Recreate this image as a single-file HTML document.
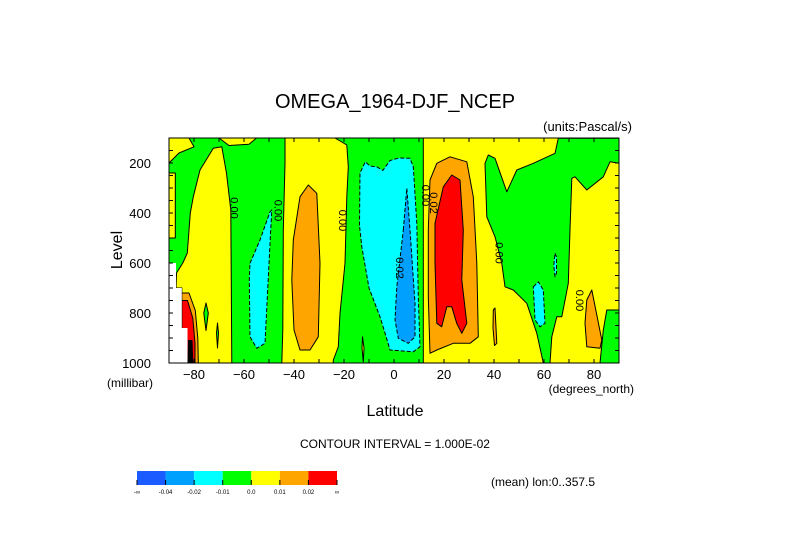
<!DOCTYPE html>
<html><head><meta charset="utf-8"><style>
body{margin:0;background:#fff;overflow:hidden;}
svg{display:block;font-family:"Liberation Sans",sans-serif;}
</style></head><body>
<svg id="chart" width="789" height="558" viewBox="0 0 789 558">
<text x="395" y="108" text-anchor="middle" font-size="20" fill="#000">OMEGA_1964-DJF_NCEP</text>
<text x="632" y="131" text-anchor="end" font-size="13">(units:Pascal/s)</text>
<g id="plot"></g>
<g id="axes"></g>
<text transform="translate(122,250) rotate(-90)" text-anchor="middle" font-size="16">Level</text>
<text x="107" y="387" font-size="12">(millibar)</text>
<text x="634" y="393" text-anchor="end" font-size="12">(degrees_north)</text>
<text x="395" y="416" text-anchor="middle" font-size="16">Latitude</text>
<text x="395" y="448" text-anchor="middle" font-size="12">CONTOUR INTERVAL = 1.000E-02</text>
<text x="491" y="486" font-size="12">(mean) lon:0..357.5</text>
<g id="cbar"></g>
</svg>
<script>
const latTicks=[-80,-60,-40,-20,0,20,40,60,80];
const presTicks=[200,400,600,800,1000];
const cbarColors=["#1a5cff","#00a0ff","#00ffff","#00ff00","#ffff00","#ffa500","#ff0000"];
const cbarLabels=["-∞","-0.04","-0.02","-0.01","0.0","0.01","0.02","∞"];
// regions: [level class, [lat, pressure] points]
const regionLevels=["yellow","yellow","yellow","yellow","orange","red","black","white","green","green","cyan","yellow","orange","cyan","blue","yellow","green","green","orange","red","cyan","cyan","orange","orange","yellow"];
const regionPoints=[
 [[-90,100],[-82,100],[-80,135],[-86,160],[-90,200]],
 [[-90,240],[-87.5,240],[-87.5,500],[-90,500]],
 [[-84.9,1000],[-84.9,700],[-87.2,700],[-87,640],[-84.5,600],[-82.7,560],[-81.5,400],[-80.3,335],[-77.6,228],[-72.3,141],[-68.9,135],[-67,241],[-65.3,388],[-64.9,1000]],
 [[-43.6,100],[-23.6,100],[-18.9,128],[-18.3,215],[-18.9,335],[-19.6,601],[-21.6,801],[-22.3,935],[-24.3,988],[-24.3,1000],[-44.9,1000],[-44.5,868],[-44.3,468],[-43.6,201]],
 [[-84.9,720],[-82,720],[-79.5,790],[-78.5,900],[-78.3,1000],[-84.9,1000]],
 [[-84.9,750],[-82.6,750],[-80.5,820],[-79.6,920],[-79.6,1000],[-84.9,1000]],
 [[-82.4,908],[-80.6,908],[-80.3,1000],[-82.6,1000]],
 [[-90,600],[-87.2,600],[-87.2,700],[-84.9,700],[-84.9,860],[-82.6,860],[-82.6,1000],[-90,1000]],
 [[-75.2,760],[-74.3,800],[-75.2,870],[-76.1,800]],
 [[-70.6,840],[-70.2,880],[-70.6,940],[-71,880]],
 [[-57.6,601],[-53.6,508],[-49.6,395],[-48.9,388],[-49.5,500],[-51.6,921],[-54.9,941],[-57.6,895],[-57.9,668]],
 [[-12.6,895],[-12,940],[-12.3,995],[-12.8,940]],
 [[-40.3,508],[-37.6,335],[-34.3,288],[-30.9,321],[-29.6,601],[-30.3,895],[-33.6,948],[-37.6,948],[-40,868],[-40.9,668]],
 [[-13.8,450],[-13.6,240],[-11.5,195],[-9.6,212],[-6.9,215],[-4.5,230],[-1.6,190],[2,180],[6.4,181],[7.7,215],[9.1,441],[9.7,735],[10.4,935],[7.7,955],[-1.6,948],[-3,900],[-5.6,815],[-10,700],[-12.9,535]],
 [[3.7,468],[5.1,301],[6.4,468],[8.4,761],[8.4,895],[5.7,921],[1.7,901],[0.4,828],[1.1,695]],
 [[11.7,100],[90,100],[90,1000],[11.7,1000]],
 [[36.4,201],[37.7,168],[40.4,181],[45.1,315],[49.1,228],[55.7,201],[64.4,161],[65.7,101],[90,101],[90,201],[86.4,195],[83.7,255],[77.1,308],[72.4,255],[71.1,261],[70.4,468],[69.7,681],[67.1,815],[65.1,815],[63.1,895],[62.4,1000],[59.7,1000],[57.1,881],[53.1,761],[47.7,708],[44.4,695],[43.1,601],[40.4,495],[37.1,415]],
 [[90,788],[85.1,788],[83.7,868],[82.4,1000],[90,1000]],
 [[14.4,268],[17.1,201],[22.4,175],[29.1,195],[31.7,335],[33.1,601],[33.7,895],[30.4,921],[23.7,921],[17.1,948],[14.4,961],[13.7,735],[13.7,468]],
 [[16.4,441],[19.7,295],[23.1,248],[26.4,268],[27.7,468],[27.1,668],[29.1,841],[27.1,881],[25.1,841],[23.1,775],[21.1,775],[19.1,855],[17.1,841],[16.4,601]],
 [[55.7,695],[57.7,675],[59.7,708],[60.4,841],[58.4,855],[56.4,828]],
 [[64.4,561],[65,575],[65,640],[64.4,655],[63.9,610]],
 [[77.1,748],[79.1,708],[83.1,908],[82.4,941],[77.1,935],[76.4,841]],
 [[39.7,788],[40.4,780],[41.1,921],[40.2,930],[39.6,860]],
 [[-70,100],[-55,100],[-58,125],[-66,130]]
];
const labelTexts=["0.00","0.00","0.00","0.00","0.00","0.02","0.00","0.02"];
const labelLat=[-65.5,-47.8,-22,11.2,40.5,14.3,72.7,0.8];
const labelPres=[380,390,430,330,560,360,750,620];

const X0=169,X1=619,Y0=138,Y1=363;
const xs=lat=>X0+(lat+90)/180*(X1-X0);
const ys=p=>Y0+(p-100)/900*(Y1-Y0);
const fills={white:"#ffffff",green:"#00ff00",yellow:"#ffff00",orange:"#ffa500",red:"#ff0000",black:"#000000",cyan:"#00ffff",blue:"#00a0ff"};
const NS="http://www.w3.org/2000/svg";
const plot=document.getElementById('plot');
const bg=document.createElementNS(NS,'rect');


bg.setAttribute('x',X0);bg.setAttribute('y',Y0);bg.setAttribute('width',X1-X0);bg.setAttribute('height',Y1-Y0);bg.setAttribute('fill','#00ff00');
plot.appendChild(bg);
const clip=document.createElementNS(NS,'clipPath');clip.setAttribute('id','pc');
const cr=document.createElementNS(NS,'rect');cr.setAttribute('x',X0);cr.setAttribute('y',Y0);cr.setAttribute('width',X1-X0);cr.setAttribute('height',Y1-Y0);
clip.appendChild(cr);plot.appendChild(clip);
regionPoints.forEach((pts,i)=>{
  const lv=regionLevels[i];
  const pg=document.createElementNS(NS,'polygon');
  
  
  pg.setAttribute('points',pts.map(q=>xs(q[0]).toFixed(1)+','+ys(q[1]).toFixed(1)).join(' '));
  pg.setAttribute('fill',fills[lv]);
  pg.setAttribute('clip-path','url(#pc)');
  if(lv!=='white'&&lv!=='black'){pg.setAttribute('stroke','#000');pg.setAttribute('stroke-width','1');pg.setAttribute('stroke-linejoin','round');}
  if(lv==='cyan'||lv==='blue'){pg.setAttribute('stroke-dasharray','4,2');}
  plot.appendChild(pg);
});
labelTexts.forEach((t,i)=>{
  const tx=document.createElementNS(NS,'text');
  
  
  const x=xs(labelLat[i]),y=ys(labelPres[i]);
  tx.setAttribute('transform','translate('+x+','+y+') rotate(90)');
  tx.setAttribute('text-anchor','middle');tx.setAttribute('font-size','11');
  tx.textContent=t;plot.appendChild(tx);
});
const ax=document.getElementById('axes');
const frame=document.createElementNS(NS,'rect');


frame.setAttribute('x',X0);frame.setAttribute('y',Y0);frame.setAttribute('width',X1-X0);frame.setAttribute('height',Y1-Y0);
frame.setAttribute('fill','none');frame.setAttribute('stroke','#000');
ax.appendChild(frame);
function line(x1,y1,x2,y2){const l=document.createElementNS(NS,'line');l.setAttribute('x1',x1);l.setAttribute('y1',y1);l.setAttribute('x2',x2);l.setAttribute('y2',y2);l.setAttribute('stroke','#000');return l;}
for(let lat=-90;lat<=90;lat+=10){
  const l1=line(xs(lat),Y1,xs(lat),Y1-4);ax.appendChild(l1);
  const l2=line(xs(lat),Y0,xs(lat),Y0+4);ax.appendChild(l2);
}
for(let p=100;p<=1000;p+=50){
  const l1=line(X0,ys(p),X0+4,ys(p));ax.appendChild(l1);
  const l2=line(X1,ys(p),X1-4,ys(p));ax.appendChild(l2);
}
latTicks.forEach(v=>{
  const t=document.createElementNS(NS,'text');
  
  
  t.setAttribute('x',xs(v));t.setAttribute('y',Y1+16);t.setAttribute('text-anchor','middle');t.setAttribute('font-size','13');
  t.textContent=v<0?'\u2212'+(-v):String(v);ax.appendChild(t);
});
presTicks.forEach(v=>{
  const t=document.createElementNS(NS,'text');
  
  
  t.setAttribute('x',X0-18);t.setAttribute('y',ys(v)+5);t.setAttribute('text-anchor','end');t.setAttribute('font-size','13');
  t.textContent=v;ax.appendChild(t);
});
const cb=document.getElementById('cbar');
const bw=200/cbarColors.length;
cbarColors.forEach((c,i)=>{
  const r=document.createElementNS(NS,'rect');
  
  
  r.setAttribute('x',137+i*bw);r.setAttribute('y',471);r.setAttribute('width',bw);r.setAttribute('height',14);r.setAttribute('fill',c);
  cb.appendChild(r);
});
cbarLabels.forEach((s,i)=>{
  const t=document.createElementNS(NS,'text');
  
  
  t.setAttribute('x',137+i*bw);t.setAttribute('y',494);t.setAttribute('text-anchor','middle');t.setAttribute('font-size','6');
  t.textContent=s;cb.appendChild(t);
  const l=line(137+i*bw,480,137+i*bw,485);cb.appendChild(l);
});
</script>
</body></html>
